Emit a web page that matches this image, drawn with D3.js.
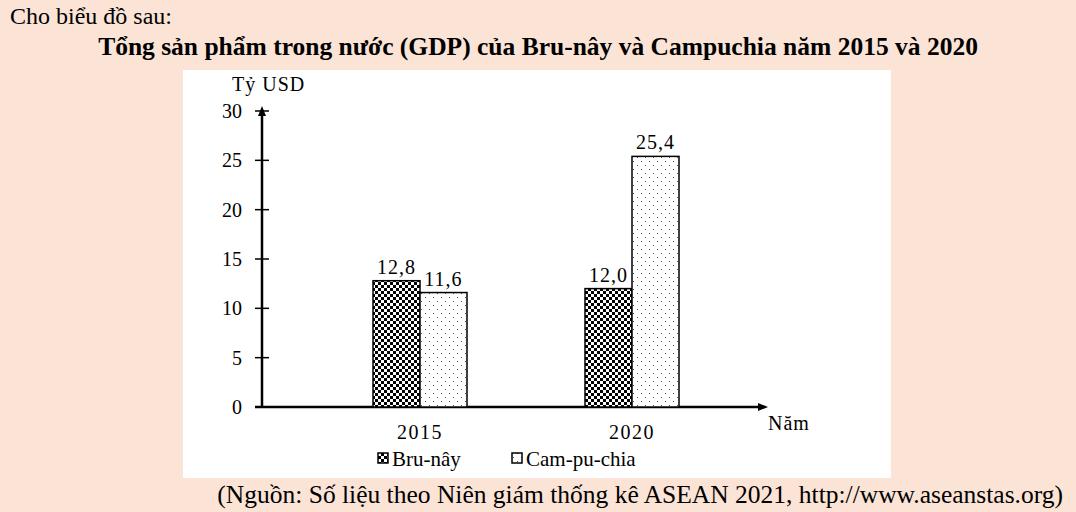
<!DOCTYPE html>
<meta charset="utf-8">
<style>
body{margin:0;background:#fbe4d6;}
svg text{font-family:"Liberation Serif","Times New Roman",serif;fill:#000;}
</style>
<svg id="chart" width="1076" height="512"></svg>
<script src="https://d3js.org/d3.v7.min.js"></script>
<script>
const YEARS = ['2015', '2020']
const SERIES = ['Bru-nây', 'Cam-pu-chia']
const BRUNEI = [12.8, 12.0]
const CAMBODIA = [11.6, 25.4]
const Y_TICKS = [0, 5, 10, 15, 20, 25, 30]

let svg = d3.select('#chart')

// patterns
let defs = svg.append('defs')
let chk = defs.append('pattern').attr('id', 'chk').attr('patternUnits', 'userSpaceOnUse')
  .attr('width', 6).attr('height', 6)
chk.append('rect').attr('width', 6).attr('height', 6).attr('fill', '#fff')
chk.append('rect').attr('width', 3).attr('height', 3).attr('fill', '#000')
chk.append('rect').attr('x', 3).attr('y', 3).attr('width', 3).attr('height', 3).attr('fill', '#000')
let dot = defs.append('pattern').attr('id', 'dot').attr('patternUnits', 'userSpaceOnUse')
  .attr('width', 8).attr('height', 8)
dot.append('rect').attr('width', 8).attr('height', 8).attr('fill', '#fff')
dot.append('rect').attr('x', 1).attr('y', 1).attr('width', 1).attr('height', 1).attr('fill', '#555')
dot.append('rect').attr('x', 5).attr('y', 5).attr('width', 1).attr('height', 1).attr('fill', '#555')

svg.append('text').attr('x', 10).attr('y', 24).style('font-size', '24px').text('Cho biểu đồ sau:')
svg.append('text').attr('x', 538).attr('y', 55).attr('text-anchor', 'middle')
  .style('font-size', '25.5px').style('font-weight', 'bold')
  .text('Tổng sản phẩm trong nước (GDP) của Bru-nây và Campuchia năm 2015 và 2020')

svg.append('rect').attr('x', 183).attr('y', 70).attr('width', 708).attr('height', 408).attr('fill', '#fff')

let y = d3.scaleLinear().domain([0, 30]).range([407, 111])
let centers = {'2015': 420, '2020': 632}
const BW = 47
const FS = '20px'

let yAxis = svg.append('g').attr('transform', 'translate(262,0)')
  .call(d3.axisLeft(y).tickValues(Y_TICKS).tickSize(0).tickPadding(20))
yAxis.select('.domain').remove()
yAxis.selectAll('text').style('font-size', FS).attr('font-family', null)
svg.selectAll('line.yt').data(Y_TICKS).join('line')
  .attr('x1', 255).attr('x2', 269).attr('y1', d => y(d)).attr('y2', d => y(d))
  .attr('stroke', '#000').attr('stroke-width', 1.5)
svg.append('line').attr('x1', 262).attr('x2', 262).attr('y1', 407).attr('y2', 110)
  .attr('stroke', '#000').attr('stroke-width', 2.5)
svg.append('path').attr('d', 'M262,106 L258,116 L266,116 Z')
svg.append('line').attr('x1', 255).attr('x2', 762).attr('y1', 407).attr('y2', 407)
  .attr('stroke', '#000').attr('stroke-width', 2.5)
svg.append('path').attr('d', 'M768,407 L758,403 L758,411 Z')

svg.append('text').attr('x', 232).attr('y', 91).style('font-size', FS).style('letter-spacing', '1px').text('Tỷ USD')
svg.append('text').attr('x', 768).attr('y', 430).style('font-size', FS).style('letter-spacing', '1px').text('Năm')

let groups = [[BRUNEI, 'url(#chk)', -1], [CAMBODIA, 'url(#dot)', 0]]
groups.forEach(([vals, fill, off]) => {
  svg.selectAll(null).data(YEARS).join('rect')
    .attr('x', (d) => centers[d] + off * BW).attr('width', BW)
    .attr('y', (d, i) => y(vals[i])).attr('height', (d, i) => 407 - y(vals[i]))
    .attr('fill', fill).attr('stroke', '#000').attr('stroke-width', 1.5)
  svg.selectAll(null).data(YEARS).join('text')
    .attr('x', d => centers[d] + off * BW + BW / 2).attr('y', (d, i) => y(vals[i]) - 7)
    .attr('text-anchor', 'middle').style('font-size', FS).style('letter-spacing', '1px')
    .text((d, i) => d3.format('.1f')(vals[i]).replace('.', ','))
})

svg.selectAll(null).data(YEARS).join('text')
  .attr('x', d => centers[d]).attr('y', 439).attr('text-anchor', 'middle')
  .style('font-size', FS).style('letter-spacing', '1.5px').text(d => d)

let leg = [[378, 'url(#chk)', SERIES[0]], [512, 'url(#dot)', SERIES[1]]]
leg.forEach(([lx, fill, t]) => {
  svg.append('rect').attr('x', lx).attr('y', 453).attr('width', 10).attr('height', 10)
    .attr('fill', fill).attr('stroke', '#000').attr('stroke-width', 1.5)
  svg.append('text').attr('x', lx + 14).attr('y', 466).style('font-size', '21px').text(t)
})

svg.append('text').attr('x', 1063).attr('y', 503).attr('text-anchor', 'end').style('font-size', '25.5px')
  .text('(Nguồn: Số liệu theo Niên giám thống kê ASEAN 2021, http://www.aseanstas.org)')
</script>
